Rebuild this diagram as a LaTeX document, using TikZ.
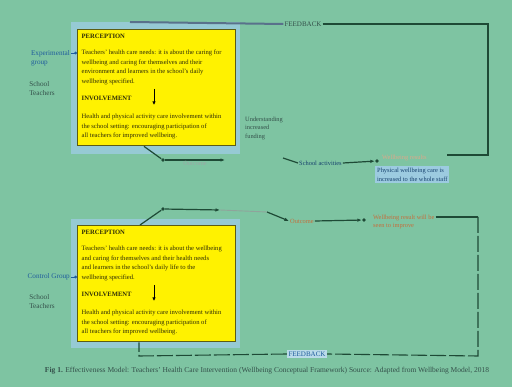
\documentclass[tikz,border=0pt]{standalone}
\usepackage{fontspec}
\setmainfont{Liberation Serif}
\usepackage{tikz}
\usetikzlibrary{arrows.meta,positioning,calc}
\definecolor{FieldGreen}{HTML}{7EC4A2}
\definecolor{BoxYellow}{HTML}{FFF200}
\definecolor{BoxEdge}{HTML}{5C5C14}
\definecolor{BoxInk}{HTML}{2E2C08}
\definecolor{LineGreen}{HTML}{1E4A36}
\definecolor{TextBlue}{HTML}{1F5C9C}
\definecolor{TextOrange}{HTML}{C46E3C}
\definecolor{PaleBlue}{HTML}{9CCBE0}
\definecolor{TextGrey}{HTML}{34504A}

\newcommand{\boxcontent}[2]{%
  \parbox[t][108pt][t]{150pt}{\textbf{PERCEPTION}\\[7pt]#1\\[7pt]\textbf{INVOLVEMENT}\\[9pt]#2}}

\begin{document}
\begin{tikzpicture}[x=1pt,y=-1pt,
    every node/.style={inner sep=1pt},
    yellowbox/.style={draw=BoxEdge,line width=1.4pt,fill=BoxYellow,inner sep=4pt,
      anchor=north west,font=\fontsize{6.6}{9.6}\selectfont,text=BoxInk},
    small/.style={font=\fontsize{6.4}{8.5}\selectfont,align=left},
    side/.style={font=\fontsize{7.2}{9}\selectfont,align=left},
    flow/.style={draw=LineGreen,line width=1.2pt},
    flowarrow/.style={flow,-{Latex[length=4.5pt,width=3.5pt]}},
    dot/.style={circle,fill=LineGreen,inner sep=1.4pt},
    back/.style={draw=LineGreen,line width=1.1pt},
  ]
  % background
  \fill[FieldGreen] (0,0) rectangle (512,387);
  \useasboundingbox (0,0) rectangle (512,387);
  \fill[PaleBlue!80!FieldGreen] (71,22) rectangle (240,154);
  \fill[PaleBlue!80!FieldGreen] (71,219) rectangle (240,348);

  % upper group
  \node[yellowbox] (box1) at (77,29) {\boxcontent{%
    Teachers' health care needs: it is about the caring for\\
    wellbeing and caring for themselves and their\\
    environment and learners in the school's daily\\
    wellbeing specified.}{%
    Health and physical activity care involvement within\\
    the school setting: encouraging participation of\\
    all teachers for improved wellbeing.}};
  \draw[-{Latex[length=3.5pt,width=3.5pt]},line width=0.9pt] ($(box1.north west)+(77,60)$) -- ($(box1.north west)+(77,76)$);
  \node[side,text=TextBlue,anchor=east] (expgroup) at (71,58) {Experimental\\group};
  \node[side,text=TextGrey] (teach1) at (42,89) {School\\Teachers};
  \draw[TextBlue,line width=0.9pt,-{Circle[length=2.8pt]}] (expgroup.east |- 0,53) -- (box1.west |- 0,53);

  \node[small,text=TextGrey,anchor=west] (fund) at (244,128) {Understanding\\increased\\funding};
  \coordinate (u1) at (163,160);
  \node[dot] (d1) at (u1) {};
  \coordinate (a1) at (225,160);
  \draw[flow] ($(box1.south west)+(67,0)$) -- (d1);
  \draw[flowarrow] (d1) -- node[below=0pt,small,text=TextGrey!50]{Outcome} (a1);
  \node[small,text=TextBlue!70!black,anchor=west] (school) at (298,163) {School activities};
  \coordinate (s0) at (283,158);
  \draw[flow] (s0) -- (school.west);
  \node[dot] (d2) at (377,161) {};
  \draw[flowarrow] (school.east) -- (d2);
  \node[small,text=TextOrange!60,anchor=west] (res1) at (381,158) {Wellbeing results};
  \node[small,fill=PaleBlue,text=TextBlue!70!black,anchor=north west,inner sep=2pt] (phys) at (375,166)
    {Physical wellbeing care is\\increased to the whole staff};

  % feedback loop, upper
  \node[font=\fontsize{7}{8}\selectfont,text=TextGrey] (fb1) at (303,24) {FEEDBACK};
  \coordinate (c1) at (488,24);
  \coordinate (c2) at (488,155);
  \coordinate (c3) at (447,155);
  \draw[back] (fb1.east) -- (c1) -- (c2) -- (c3);
  \draw[draw=TextBlue!40!gray,line width=2pt] (fb1.west) -- (130,22);

  % lower group
  \node[yellowbox] (box2) at (77,225) {\boxcontent{%
    Teachers' health care needs: it is about the wellbeing\\
    and caring for themselves and their health needs\\
    and learners in the school's daily life to the\\
    wellbeing specified.}{%
    Health and physical activity care involvement within\\
    the school setting: encouraging participation of\\
    all teachers for improved wellbeing.}};
  \draw[-{Latex[length=3.5pt,width=3.5pt]},line width=0.9pt] ($(box2.north west)+(77,60)$) -- ($(box2.north west)+(77,76)$);
  \node[side,text=TextBlue,anchor=east] (congroup) at (71,277) {Control Group};
  \node[side,text=TextGrey] (teach2) at (42,302) {School\\Teachers};
  \draw[TextBlue,line width=0.9pt,-{Circle[length=2.8pt]}] (congroup.east) -- (box2.west |- congroup.east);

  \node[dot] (d3) at (163,209) {};
  \coordinate (a3) at (220,210);
  \draw[flow] ($(box2.north west)+(63,0)$) -- (d3);
  \draw[flowarrow] (d3) -- (a3);
  \coordinate (m3) at (267,212);
  \draw[LineGreen!50,line width=0.9pt] (a3) -- (m3);
  \node[small,text=TextOrange,anchor=west] (out2) at (289,221) {Outcome};
  \draw[flowarrow] (m3) -- (out2.west);
  \node[dot] (d4) at (364,220) {};
  \draw[flowarrow] (out2.east) -- (d4);
  \node[small,text=TextOrange,anchor=west] (res2) at (372,222) {Wellbeing result will be\\seen to improve};

  % feedback loop, lower
  \coordinate (c4) at (478,217);
  \coordinate (c5) at (478,356);
  \coordinate (c6) at (139,356);
  \node[font=\fontsize{7}{8}\selectfont,text=TextBlue,fill=PaleBlue!70,inner sep=1.5pt] (fb2) at (307,354) {FEEDBACK};
  \draw[back] (res2.east |- c4) -- (c4);
  \draw[back,dash pattern=on 16pt off 3pt] (c4) -- (c5) -- (fb2.east);
  \draw[back,dash pattern=on 16pt off 3pt] (fb2.west) -- (c6) -- (c6 |- box2.south);

  % caption
  \node[font=\fontsize{7.5}{8}\selectfont,text=TextGrey] (caption) at (267,371)
    {\textbf{Fig 1.} Effectiveness Model: Teachers' Health Care Intervention (Wellbeing Conceptual Framework) Source: Adapted from Wellbeing Model, 2018};
\end{tikzpicture}
\end{document}
